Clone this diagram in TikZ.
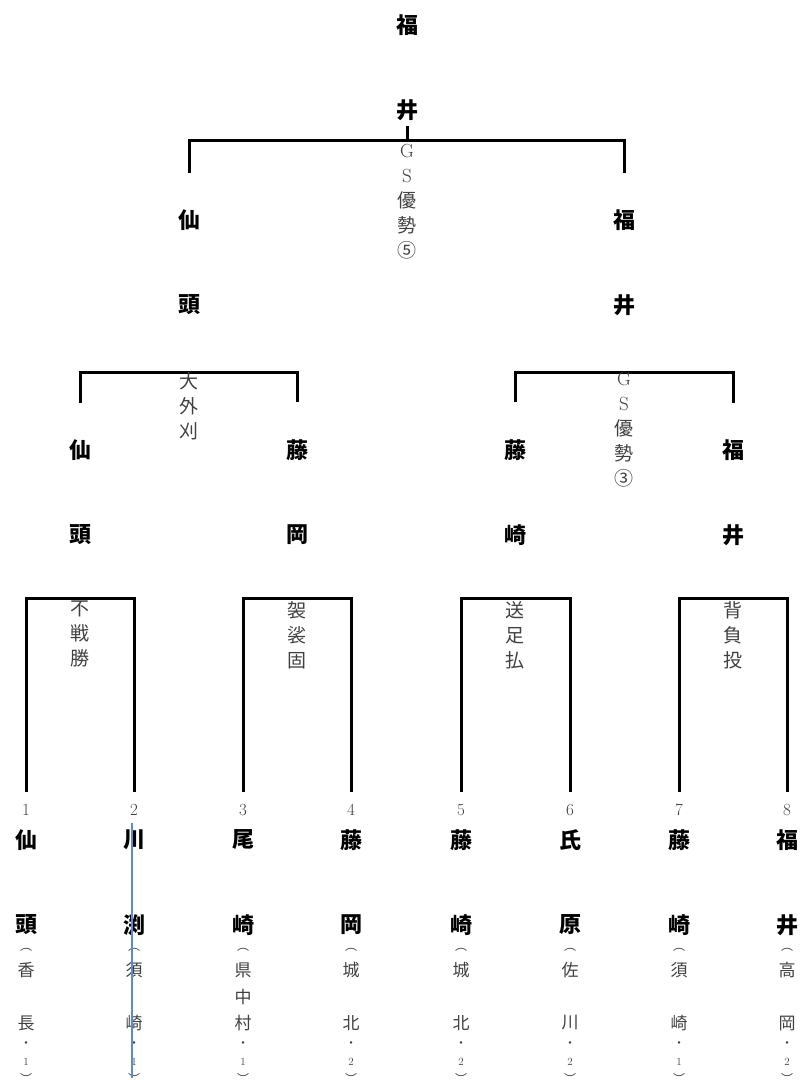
\documentclass[tikz,border=0pt]{standalone}
\usepackage{fontspec}
\newfontfamily\jp{Noto Sans CJK JP}
\definecolor{labelgray}{gray}{0.25}
\definecolor{markblue}{HTML}{5B8BD0}
\tikzset{
  bracket/.style={line width=3pt},
  player/.style={font=\jp\bfseries\fontsize{22}{22}\selectfont, inner sep=0pt},
  winner/.style={player, outer ysep=37pt},
  seed/.style={font=\fontsize{17}{17}\selectfont, text=labelgray, inner sep=0pt, outer ysep=12pt},
  school/.style={font=\jp\fontsize{17}{17}\selectfont, text=labelgray, inner sep=0pt},
  paren/.style={font=\jp\fontsize{12}{12}\selectfont, text=labelgray, inner sep=0pt},
  grade/.style={font=\fontsize{11}{11}\selectfont, text=labelgray, inner sep=0pt},
  waza/.style={font=\jp\fontsize{19}{25}\selectfont, text=labelgray, align=center, inner sep=0pt, anchor=north},
}
\begin{document}
\begin{tikzpicture}[x=1pt,y=-1pt]
\useasboundingbox (0,0) rectangle (802,1086);
% first round
\foreach \i/\x/\na/\nb/\sa/\sb/\sc/\g in {
  1/26/仙/頭/香/{}/長/1, 2/134/川/渕/須/{}/崎/1,
  3/243/尾/崎/県/中/村/1, 4/351/藤/岡/城/{}/北/2,
  5/461/藤/崎/城/{}/北/2, 6/570/氏/原/佐/{}/川/2,
  7/679/藤/崎/須/{}/崎/1, 8/787/福/井/高/{}/岡/2}{
  \node[seed] (n\i) at (\x,810) {\i};
  \node[player] (p\i) at (\x,840) {\na};
  \node[player] (q\i) at (\x,925) {\nb};
  \node[paren] (s\i o) at (\x,950) {︵};
  \node[school] (s\i a) at (\x,970) {\sa};
  \node[school] (s\i b) at (\x,997) {\sb};
  \node[school] (s\i c) at (\x,1023) {\sc};
  \node[paren] (s\i d) at (\x,1045) {・};
  \node[grade] (s\i g) at (\x,1062) {\g};
  \node[paren] (s\i e) at (\x,1078) {︶};
}
% second round
\node[winner] (w1) at (80,450) {仙};  \node[player] (w1b) at (80,535) {頭};
\node[winner] (w2) at (297,450) {藤}; \node[player] (w2b) at (297,535) {岡};
\node[winner] (w3) at (515,450) {藤}; \node[player] (w3b) at (515,535) {崎};
\node[winner] (w4) at (733,450) {福}; \node[player] (w4b) at (733,535) {井};
\coordinate (m1) at (80,598);
\coordinate (m2) at (297,598);
\coordinate (m3) at (515,598);
\coordinate (m4) at (733,598);
\draw[bracket] (n1.north) |- (m1) -| (n2.north);
\draw[bracket] (n3.north) |- (m2) -| (n4.north);
\draw[bracket] (n5.north) |- (m3) -| (n6.north);
\draw[bracket] (n7.north) |- (m4) -| (n8.north);
\node[waza] (k1) at (80,601) {不\\戦\\勝};
\node[waza] (k2) at (297,601) {袈\\裟\\固};
\node[waza] (k3) at (515,601) {送\\足\\払};
\node[waza] (k4) at (733,601) {背\\負\\投};
% semifinal
\node[winner] (f1) at (189,220) {仙}; \node[player] (f1b) at (189,305) {頭};
\node[winner] (f2) at (624,220) {福}; \node[player] (f2b) at (624,305) {井};
\coordinate (m5) at (189,372);
\coordinate (m6) at (624,372);
\draw[bracket] (w1.north) |- (m5) -| (w2.north);
\draw[bracket] (w3.north) |- (m6) -| (w4.north);
\node[waza] (k5) at (189,372) {大\\外\\刈};
\node[waza] (k6) at (624,372) {{\rmfamily G}\\{\rmfamily S}\\優\\勢\\③};
% final
\node[player] (c1) at (407,25) {福};
\node[player, outer ysep=5pt] (c2) at (407,110) {井};
\coordinate (m7) at (407,141);
\draw[bracket] (f1.north) |- (m7) -| (f2.north);
\draw[bracket] (m7) -- (c2.south);
\node[waza] (k7) at (407,144) {{\rmfamily G}\\{\rmfamily S}\\優\\勢\\⑤};
% mark
\draw[markblue, line width=1.3pt] (132,823) -- (132,1078);
\end{tikzpicture}
\end{document}
